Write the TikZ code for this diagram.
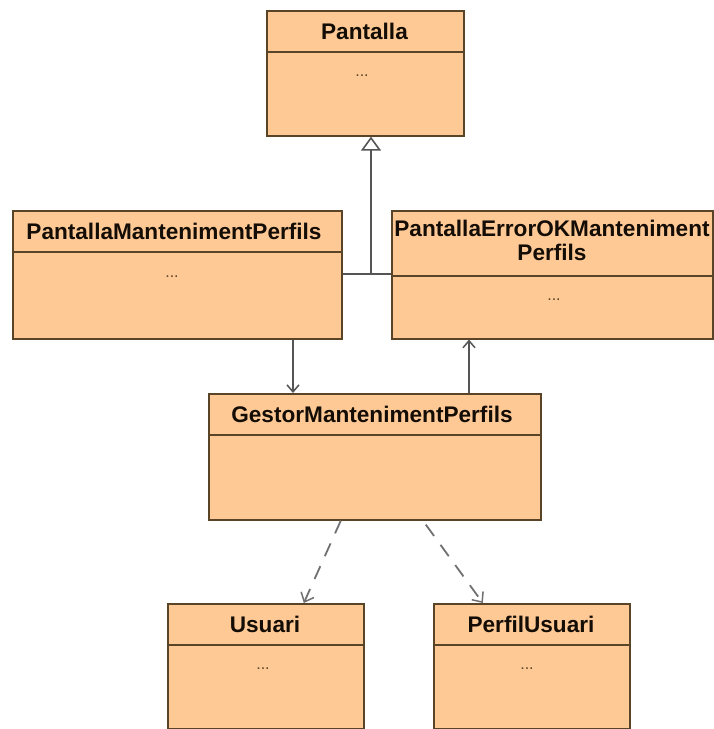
\documentclass[tikz,border=0pt]{standalone}
\usepackage{fontspec}
\setmainfont{Liberation Sans}
\usetikzlibrary{arrows.meta,calc}
\definecolor{clsfill}{HTML}{FFC996}
\definecolor{clsline}{HTML}{5A4428}
\definecolor{conn}{HTML}{555555}
\definecolor{dashconn}{HTML}{707070}
\begin{document}
\begin{tikzpicture}[x=1pt,y=-1pt,
  cls/.style={draw=clsline, fill=clsfill, line width=1.6pt, inner sep=0pt, anchor=north west},
  sep/.style={draw=clsline, line width=1.6pt},
  title/.style={font=\fontsize{22.6}{24}\selectfont\bfseries, text=black!90!brown, align=center, inner sep=0pt},
  dots/.style={font=\fontsize{16}{16}\selectfont, text=clsline, inner sep=0pt, anchor=base},
  conline/.style={draw=conn, line width=1.8pt},
  assoc/.style={conline, -{Straight Barb[length=7pt,width=12pt,line width=1.5pt]}},
  gen/.style={conline, -{Triangle[open,length=14pt,width=20pt,fill=white,line width=1.6pt]}},
  dep/.style={draw=dashconn, line width=1.8pt, dash pattern=on 14pt off 11pt,
    -{Straight Barb[length=8pt,width=14pt,line width=1.5pt]}}]
\useasboundingbox (0,0) rectangle (714,729);
\fill[white] (0,0) rectangle (714,729);

% classes (north west corner at the given point)
\node[cls, minimum width=197pt, minimum height=125pt] (pantalla) at (266,10) {};
\node[cls, minimum width=329pt, minimum height=128pt] (pm) at (12,210) {};
\node[cls, minimum width=321pt, minimum height=128pt] (err) at (391,210) {};
\node[cls, minimum width=332pt, minimum height=126pt] (gestor) at (208,393) {};
\node[cls, minimum width=196pt, minimum height=125pt] (usuari) at (167,603) {};
\node[cls, minimum width=196pt, minimum height=125pt] (perfil) at (433,603) {};

% compartment separators
\draw[sep] (pantalla.west |- 0,52) -- (pantalla.east |- 0,52);
\draw[sep] (pm.west |- 0,252) -- (pm.east |- 0,252);
\draw[sep] (err.west |- 0,276) -- (err.east |- 0,276);
\draw[sep] (gestor.west |- 0,435) -- (gestor.east |- 0,435);
\draw[sep] (usuari.west |- 0,645) -- (usuari.east |- 0,645);
\draw[sep] (perfil.west |- 0,645) -- (perfil.east |- 0,645);

% class names
\node[title] (pantalla-name) at (364.5,31) {Pantalla};
\node[title] (pm-name) at (174,231) {PantallaMantenimentPerfils};
\node[title] (err-name) at (552,240) {PantallaErrorOKManteniment\\Perfils};
\node[title] (gestor-name) at (372,414) {GestorMantenimentPerfils};
\node[title] (usuari-name) at (265,624) {Usuari};
\node[title] (perfil-name) at (531,624) {PerfilUsuari};

% elided members (placed by baseline)
\node[dots] (pantalla-dots) at (362,76) {...};
\node[dots] (pm-dots) at (172,277) {...};
\node[dots] (err-dots) at (554,300) {...};
\node[dots] (usuari-dots) at (263,669) {...};
\node[dots] (perfil-dots) at (527,669) {...};

% generalization towards Pantalla
\coordinate (join) at (371,274);
\draw[conline] (pm.east |- join) -- (err.west |- join);
\draw[gen] (join) -- (join |- pantalla.south);

% navigable associations
\coordinate (ax) at (293,0);
\coordinate (bx) at (469,0);
\draw[assoc] (pm.south -| ax) -- (gestor.north -| ax);
\draw[assoc] (gestor.north -| bx) -- (err.south -| bx);

% dependencies
\draw[dep] ([xshift=-34pt]gestor.south) -- ([xshift=38pt]usuari.north);
\draw[dep] ([xshift=51pt,yshift=-4pt]gestor.south) -- ([xshift=-49pt]perfil.north);
\end{tikzpicture}
\end{document}
